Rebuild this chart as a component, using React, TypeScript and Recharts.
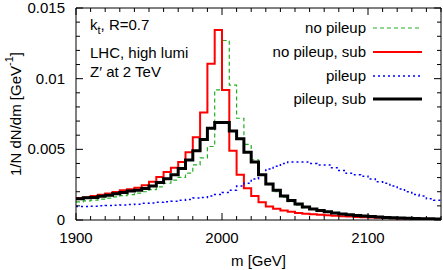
import { ComposedChart, Line, XAxis, YAxis } from "recharts";

// ── Data (5 GeV bins, value per bin starting at binLow) ──────────────────────

const binLow = [
  1900, 1905, 1910, 1915, 1920, 1925, 1930, 1935, 1940, 1945,
  1950, 1955, 1960, 1965, 1970, 1975, 1980, 1985, 1990, 1995,
  2000, 2005, 2010, 2015, 2020, 2025, 2030, 2035, 2040, 2045,
  2050, 2055, 2060, 2065, 2070, 2075, 2080, 2085, 2090, 2095,
  2100, 2105, 2110, 2115, 2120, 2125, 2130, 2135, 2140, 2145,
];
const lastEdge = 2150;

const noPileup = [
  0.00128, 0.00135, 0.0014, 0.00148, 0.00155, 0.00163, 0.00172, 0.0018, 0.0019, 0.002,
  0.00215, 0.00235, 0.0026, 0.00282, 0.00302, 0.00332, 0.0039, 0.0044, 0.0052, 0.0092,
  0.0127, 0.00955, 0.0072, 0.00535, 0.00425, 0.00315, 0.0025, 0.002, 0.00162, 0.0013,
  0.00105, 0.00088, 0.00075, 0.00065, 0.00056, 0.00048, 0.00041, 0.00035, 0.0003, 0.00026,
  0.00022, 0.00019, 0.00017, 0.00015, 0.00013, 0.00011, 0.0001, 0.00009, 0.00008, 0.00007,
];

const noPileupSub = [
  0.00155, 0.0016, 0.0017, 0.00178, 0.00188, 0.00198, 0.0021, 0.00218, 0.00228, 0.00245,
  0.0027, 0.00305, 0.0034, 0.0037, 0.0041, 0.0048, 0.00585, 0.0076, 0.01105, 0.01345,
  0.0092, 0.0049, 0.0032, 0.00225, 0.0017, 0.00125, 0.00095, 0.0008, 0.00068, 0.00058,
  0.0005, 0.00045, 0.00041, 0.00037, 0.00033, 0.0003, 0.00027, 0.00024, 0.00022, 0.0002,
  0.00018, 0.00016, 0.00014, 0.00012, 0.00011, 0.0001, 0.00009, 0.00008, 0.00007, 0.00006,
];

const pileup = [
  0.00095, 0.00095, 0.00097, 0.001, 0.00102, 0.00105, 0.00107, 0.0011, 0.00112, 0.00118,
  0.0012, 0.00125, 0.0013, 0.00133, 0.0014, 0.00145, 0.00155, 0.0016, 0.0017, 0.0018,
  0.00195, 0.0021, 0.0024, 0.0026, 0.0029, 0.0032, 0.0036, 0.0038, 0.004, 0.0041,
  0.0041, 0.0041, 0.004, 0.0039, 0.0039, 0.0037, 0.0035, 0.0033, 0.0032, 0.0031,
  0.0029, 0.0027, 0.0026, 0.0024, 0.0022, 0.002, 0.0018, 0.0017, 0.0015, 0.0014,
];

const pileupSub = [
  0.0015, 0.00158, 0.0016, 0.00168, 0.00175, 0.00185, 0.00195, 0.00205, 0.0021, 0.00222,
  0.0024, 0.00265, 0.00292, 0.0032, 0.00365, 0.00425, 0.0049, 0.0057, 0.0065, 0.0069,
  0.0069, 0.0063, 0.00575, 0.0048, 0.0041, 0.0032, 0.00255, 0.0021, 0.0017, 0.00138,
  0.00113, 0.00092, 0.00078, 0.00068, 0.00058, 0.0005, 0.00043, 0.00037, 0.00032, 0.00028,
  0.00024, 0.00021, 0.00018, 0.00016, 0.00014, 0.00012, 0.0001, 0.00009, 0.00008, 0.00007,
];

const xTicks = [
  1900, 1910, 1920, 1930, 1940, 1950, 1960, 1970, 1980, 1990,
  2000, 2010, 2020, 2030, 2040, 2050, 2060, 2070, 2080, 2090,
  2100, 2110, 2120, 2130, 2140, 2150,
];
const yTicks = [
  0, 0.001, 0.002, 0.003, 0.004, 0.005, 0.006, 0.007, 0.008,
  0.009, 0.01, 0.011, 0.012, 0.013, 0.014, 0.015,
];

const seriesNames = ["no pileup", "no pileup, sub", "pileup", "pileup, sub"];
const seriesKeys = ["np", "nps", "pu", "pus"];
const seriesColors = ["#22b022", "#ff0000", "#0000ff", "#000000"];
const seriesWidths = [1.2, 2, 1.5, 3];
const seriesDash = ["4 3", undefined, "2 3", undefined];

// stepAfter needs a closing point at the last bin edge
const chartData = [...binLow, lastEdge].map((m, i) => {
  const j = Math.min(i, binLow.length - 1);
  return { m, np: noPileup[j], nps: noPileupSub[j], pu: pileup[j], pus: pileupSub[j] };
});

// ── Chart geometry ────────────────────────────────────────────────────────────

const W = 443;
const H = 270;
const FONT = "'Liberation Sans', Arial, Helvetica, sans-serif";

// ── Tick renderers (ticks point inward, gnuplot style) ───────────────────────

function BottomTick({ x, y, payload }: any) {
  const major = payload.value % 100 === 0;
  return (
    <g>
      <line x1={x} x2={x} y1={y} y2={y - (major ? 7 : 4)} stroke="#000" strokeWidth={1} />
      {major && payload.value < 2150 && (
        <text x={x} y={y + 23} textAnchor="middle" fontSize={15} fontFamily={FONT} fill="#000">
          {payload.value}
        </text>
      )}
    </g>
  );
}

function TopTick({ x, y, payload }: any) {
  const major = payload.value % 100 === 0;
  return <line x1={x} x2={x} y1={y} y2={y + (major ? 7 : 4)} stroke="#000" strokeWidth={1} />;
}

function LeftTick({ x, y, payload }: any) {
  const major = Math.round(payload.value * 1000) % 5 === 0;
  const label = String(Number(payload.value.toFixed(3)));
  return (
    <g>
      <line x1={x} x2={x + (major ? 7 : 4)} y1={y} y2={y} stroke="#000" strokeWidth={1} />
      {major && (
        <text x={x - 11} y={y + 5} textAnchor="end" fontSize={15} fontFamily={FONT} fill="#000">
          {label}
        </text>
      )}
    </g>
  );
}

function RightTick({ x, y, payload }: any) {
  const major = Math.round(payload.value * 1000) % 5 === 0;
  return <line x1={x} x2={x - (major ? 7 : 4)} y1={y} y2={y} stroke="#000" strokeWidth={1} />;
}

function YTitle({ viewBox }: any) {
  const cx = 15;
  const cy = viewBox.y + viewBox.height / 2;
  return (
    <text
      x={cx}
      y={cy}
      transform={`rotate(-90 ${cx} ${cy})`}
      textAnchor="middle"
      dominantBaseline="central"
      fontSize={15}
      fontFamily={FONT}
      fill="#000"
    >
      1/N dN/dm [GeV
      <tspan dy={-6} fontSize={11}>-1</tspan>
      <tspan dy={6}>]</tspan>
    </text>
  );
}

function XTitle({ viewBox }: any) {
  return (
    <text
      x={viewBox.x + viewBox.width / 2}
      y={266}
      textAnchor="middle"
      fontSize={15}
      fontFamily={FONT}
      fill="#000"
    >
      m [GeV]
    </text>
  );
}

// ── Overlay texts and key ─────────────────────────────────────────────────────

const textStyle: React.CSSProperties = {
  position: "absolute",
  fontFamily: FONT,
  fontSize: 15,
  lineHeight: "15px",
  color: "#000",
  whiteSpace: "nowrap",
};

function KeyBox() {
  const rowY = [28, 52, 76, 99];
  return (
    <>
      {seriesNames.map((name, i) => (
        <div key={name}>
          <div style={{ ...textStyle, right: W - 366, top: rowY[i] - 8, textAlign: "right" }}>{name}</div>
          <svg style={{ position: "absolute", left: 372, top: rowY[i] - 4 }} width={52} height={8}>
            <line
              x1={1}
              x2={50}
              y1={4}
              y2={4}
              stroke={seriesColors[i]}
              strokeWidth={seriesWidths[i]}
              strokeDasharray={seriesDash[i]}
            />
          </svg>
        </div>
      ))}
    </>
  );
}

export default function App() {
  return (
    <div style={{ position: "absolute", left: 0, top: 0, width: W, height: H, background: "#fff" }}>
      <ComposedChart width={W} height={H} data={chartData} margin={{ top: 7, right: 1, bottom: 0, left: 0 }}>
        <XAxis
          xAxisId="bottom"
          type="number"
          dataKey="m"
          domain={[1900, 2150]}
          ticks={xTicks}
          interval={0}
          allowDataOverflow
          height={50}
          tickSize={0}
          tickMargin={0}
          tickLine={false}
          tick={<BottomTick />}
          axisLine={{ stroke: "#000", strokeWidth: 1 }}
          label={<XTitle />}
        />
        <XAxis
          xAxisId="top"
          orientation="top"
          type="number"
          dataKey="m"
          domain={[1900, 2150]}
          ticks={xTicks}
          interval={0}
          allowDataOverflow
          height={1}
          tickSize={0}
          tickMargin={0}
          tickLine={false}
          tick={<TopTick />}
          axisLine={{ stroke: "#000", strokeWidth: 1 }}
        />
        <YAxis
          yAxisId="left"
          type="number"
          domain={[0, 0.015]}
          ticks={yTicks}
          interval={0}
          allowDataOverflow
          width={76}
          tickSize={0}
          tickMargin={0}
          tickLine={false}
          tick={<LeftTick />}
          axisLine={{ stroke: "#000", strokeWidth: 1 }}
          label={<YTitle />}
        />
        <YAxis
          yAxisId="right"
          orientation="right"
          type="number"
          domain={[0, 0.015]}
          ticks={yTicks}
          interval={0}
          allowDataOverflow
          width={1}
          tickSize={0}
          tickMargin={0}
          tickLine={false}
          tick={<RightTick />}
          axisLine={{ stroke: "#000", strokeWidth: 1 }}
        />
        {seriesKeys.map((k, i) => (
          <Line
            key={k}
            xAxisId="bottom"
            yAxisId="left"
            type="stepAfter"
            dataKey={k}
            name={seriesNames[i]}
            stroke={seriesColors[i]}
            strokeWidth={seriesWidths[i]}
            strokeDasharray={seriesDash[i]}
            strokeLinejoin="miter"
            dot={false}
            activeDot={false}
            isAnimationActive={false}
          />
        ))}
      </ComposedChart>

      <div style={{ ...textStyle, left: 90, top: 17 }}>
        k<sub style={{ fontSize: 11, verticalAlign: "-4px", lineHeight: 0 }}>t</sub>, R=0.7
      </div>
      <div style={{ ...textStyle, left: 90, top: 45 }}>LHC, high lumi</div>
      <div style={{ ...textStyle, left: 90, top: 64 }}>Z′ at 2 TeV</div>
      <KeyBox />
    </div>
  );
}
